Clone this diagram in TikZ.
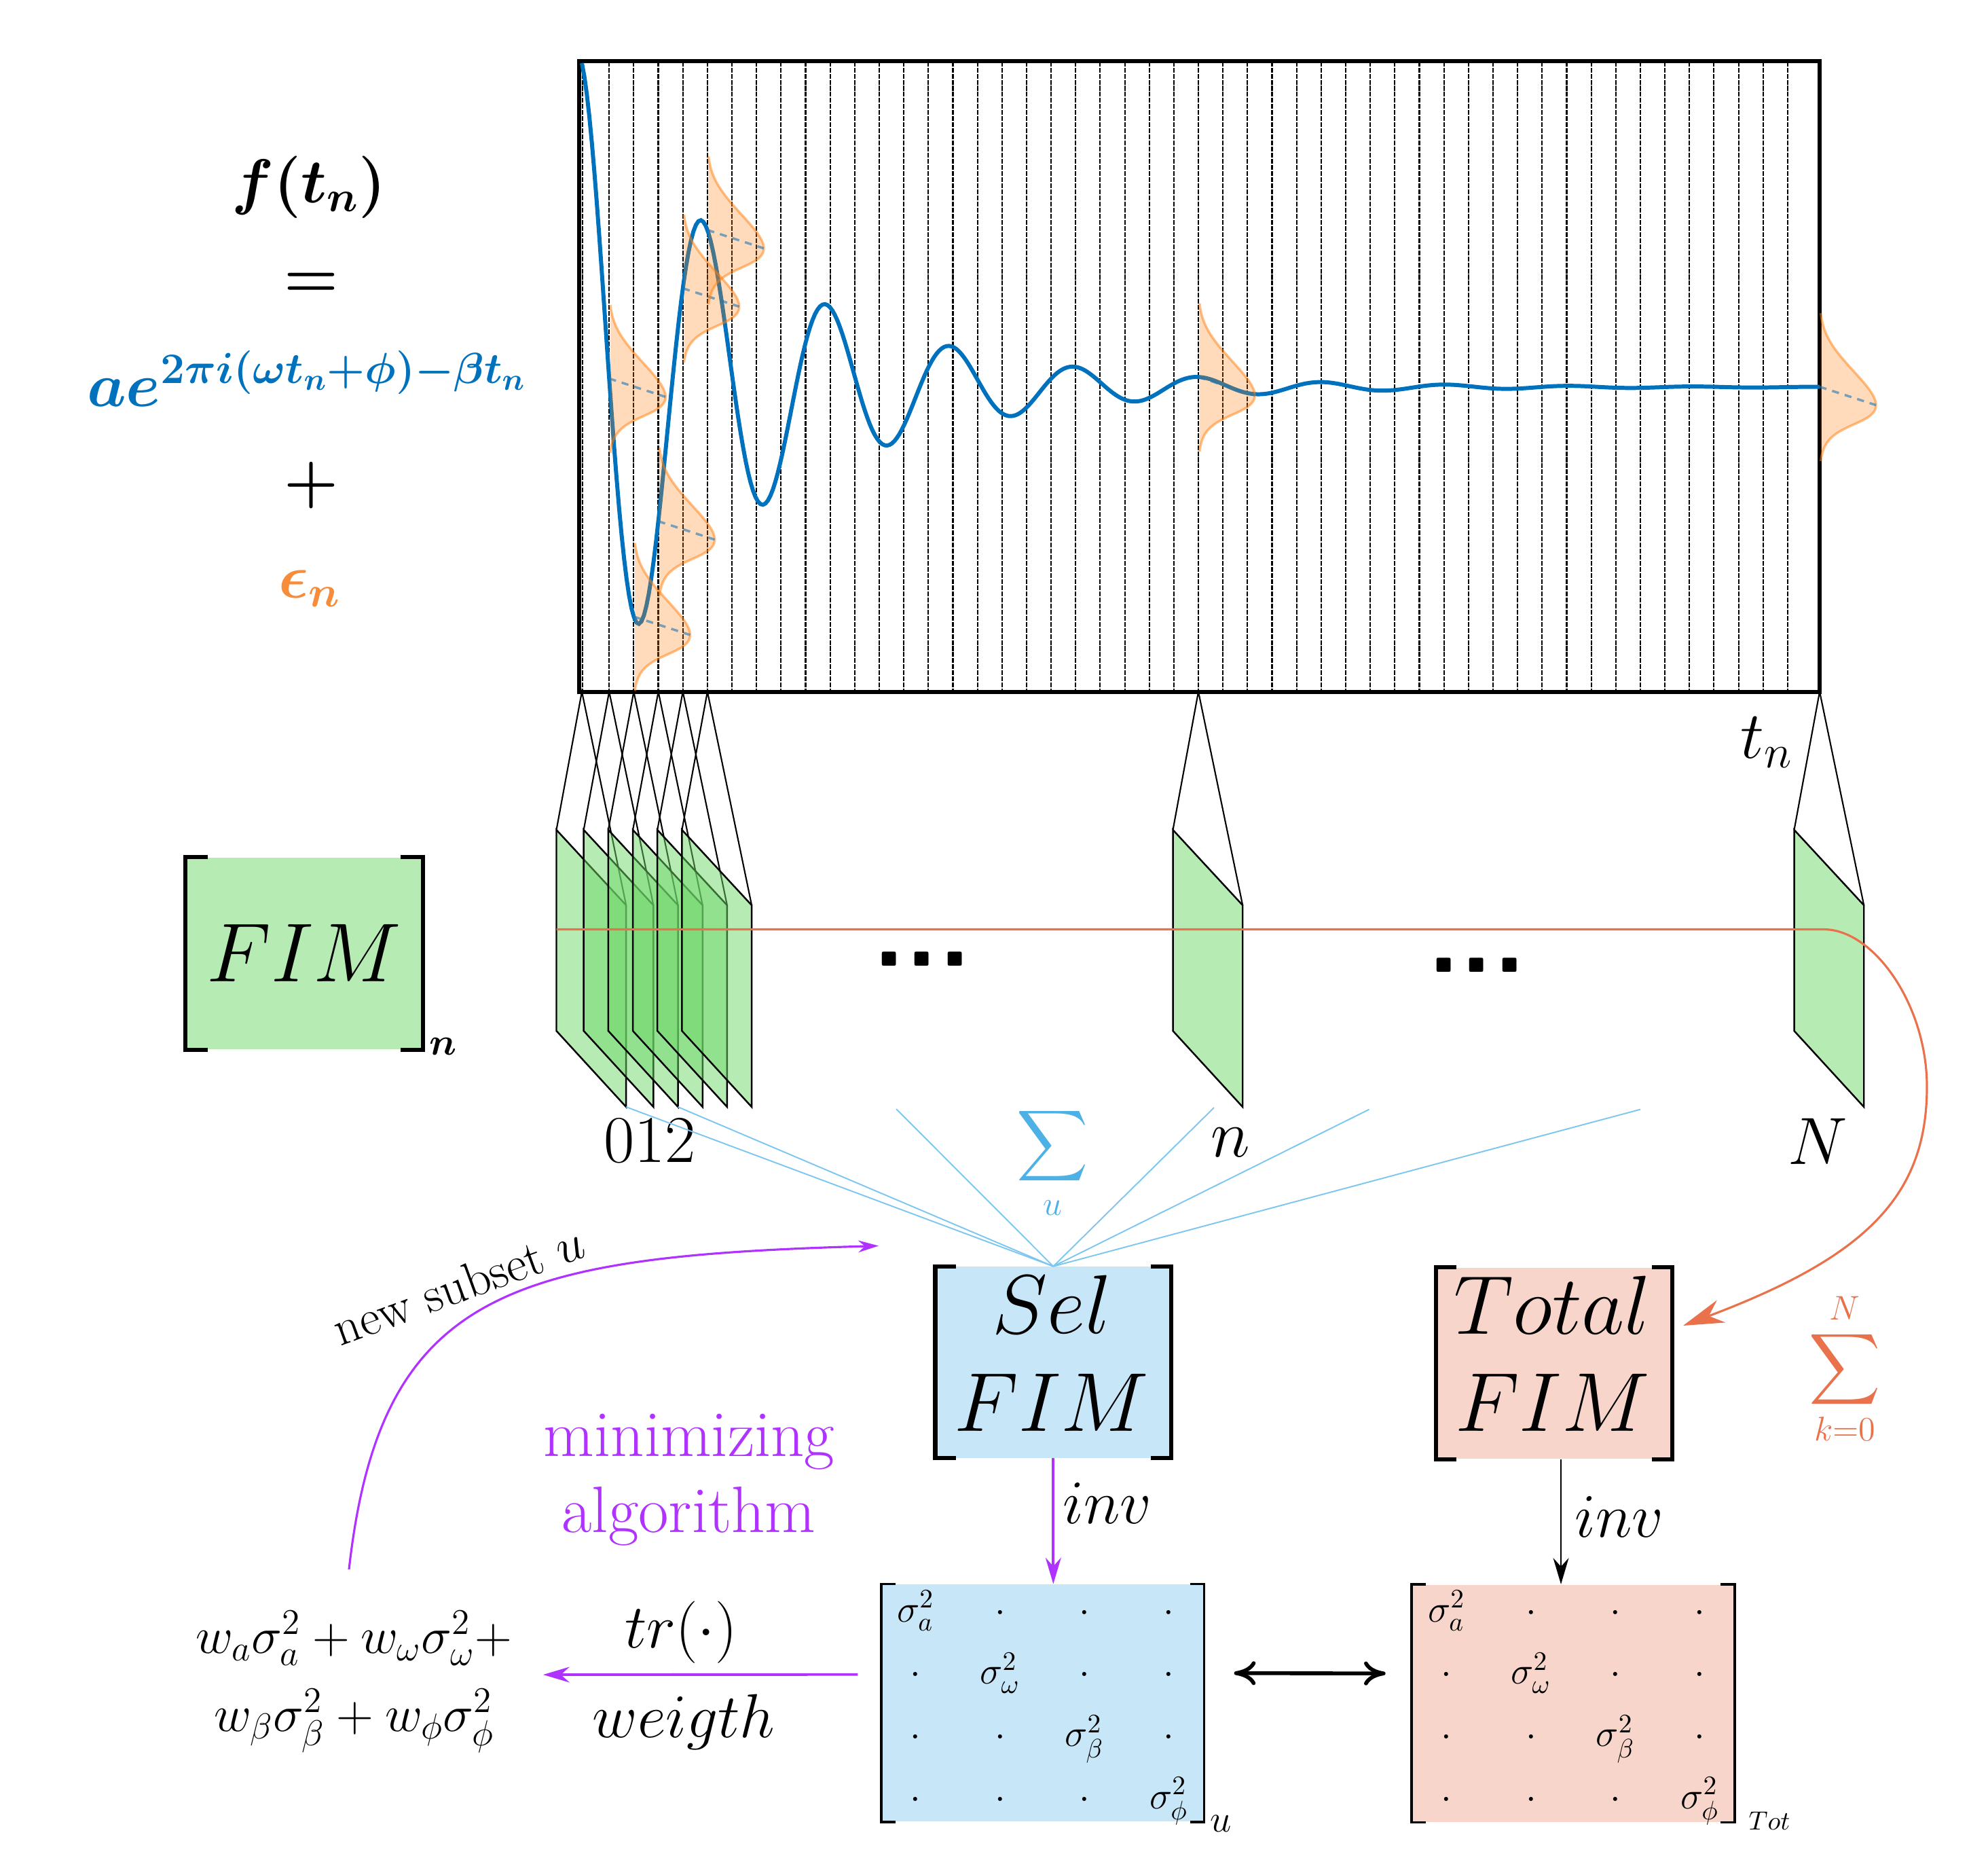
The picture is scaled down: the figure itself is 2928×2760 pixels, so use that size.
\RequirePackage{fix-cm}
\documentclass[tikz,border=0pt]{standalone}
\usepackage{exscale}
\usepackage{amsmath}
\usetikzlibrary{positioning, arrows.meta}

\definecolor{fitblue}{RGB}{0,114,189}
\definecolor{gaussorange}{RGB}{255,127,14}
\definecolor{gaussline}{RGB}{31,119,180}
\definecolor{epsorange}{RGB}{247,140,58}
\definecolor{fimgreen}{RGB}{182,235,180}
\definecolor{panelgreen}{RGB}{110,215,105}
\definecolor{selblue}{RGB}{199,230,247}
\definecolor{totpink}{RGB}{247,213,202}
\definecolor{sumorange}{RGB}{233,113,76}
\definecolor{sumblue}{RGB}{78,177,230}
\definecolor{fanblue}{RGB}{125,198,240}
\definecolor{algpurple}{RGB}{176,50,255}

% square brackets round a node
\newcommand{\fimbracket}[3][bracket]{%
  \draw[#1] ([xshift=#3]#2.north west) -- (#2.north west) -- (#2.south west) -- ([xshift=#3]#2.south west);
  \draw[#1] ([xshift=-#3]#2.north east) -- (#2.north east) -- (#2.south east) -- ([xshift=-#3]#2.south east);
}

\begin{document}
\begin{tikzpicture}[
        x=0.01cm, y=-0.01cm,
        every node/.style={inner sep=0pt},
        declare function={sig(\x)=570-483*exp(-0.00383*(\x-857))*cos(1.9715*(\x-857)+9);},
        eqfont/.style={font=\fontsize{26pt}{32pt}\selectfont\boldmath},
        fimfont/.style={font=\fontsize{35pt}{42pt}\selectfont},
        idxfont/.style={font=\fontsize{28pt}{34pt}\selectfont},
        opfont/.style={font=\fontsize{26pt}{32pt}\selectfont},
        algfont/.style={font=\fontsize{27.5pt}{33pt}\selectfont},
        wfont/.style={font=\fontsize{21.6pt}{26pt}\selectfont},
        covfont/.style={font=\fontsize{16pt}{19pt}\selectfont},
        sumfont/.style={font=\fontsize{20.4pt}{24pt}\selectfont},
        dotsfont/.style={font=\fontsize{45pt}{50pt}\selectfont\sffamily\bfseries},
        fimbox/.style={rectangle, minimum width=3.46cm, minimum height=2.81cm},
        covbox/.style={rectangle, minimum width=4.74cm, minimum height=3.49cm},
        bracket/.style={line width=1.8pt, line cap=rect, line join=miter},
        thinbracket/.style={line width=1pt, line cap=rect, line join=miter},
        sampleline/.style={line width=0.6pt, dash pattern=on 2pt off 0.55pt},
        fitcurve/.style={fitblue, line width=1.7pt},
        gaussfill/.style={fill=gaussorange, fill opacity=0.28},
        gaussedge/.style={draw=gaussorange, draw opacity=0.5, line width=1pt},
        gaussmid/.style={draw=gaussline, draw opacity=0.6, line width=1pt, dash pattern=on 3pt off 2.5pt},
        panel/.style={draw=black, line width=0.7pt, fill=panelgreen, fill opacity=0.5},
        funnel/.style={line width=0.6pt},
        fanline/.style={fanblue, line width=0.55pt},
        purplearrow/.style={algpurple, line width=1.1pt, -{Stealth[length=11pt, width=6.5pt]}},
        blackarrow/.style={line width=0.8pt, -{Stealth[length=11pt, width=6.5pt]}},
        looparrow/.style={algpurple, line width=0.9pt, -{Stealth[length=8.5pt, width=5pt]}},
        sumarrow/.style={sumorange, line width=0.9pt, -{Stealth[length=17pt, width=10pt]}},
        covarrow/.style={line width=1.6pt, {Computer Modern Rightarrow[length=9pt, width=10pt]}-{Computer Modern Rightarrow[length=9pt, width=10pt]}}
    ]

    \useasboundingbox (0,0) rectangle (2928,2760);

    % Signal model
    \node[eqfont, anchor=base] (fdef) at (455,298) {$f(t_n)$};
    \node[eqfont, anchor=base] (eqsign) at (458,437) {$=$};
    \node[eqfont, anchor=base, text=fitblue] (signal) at (452,598) {$ae^{2\pi i(\omega t_n+\phi)-\beta t_n}$};
    \node[eqfont, anchor=base] (plussign) at (458,737) {$+$};
    \node[eqfont, anchor=base, text=epsorange] (noise) at (456,880) {$\epsilon_n$};

    % Samples and signal
    \draw[sampleline] (858,90.6) -- (858,1018.5);
    \foreach \k in {1,...,49}
        \draw[sampleline] ({897.2+36.16*(\k-1)},90.6) -- ({897.2+36.16*(\k-1)},1018.5);
    \node[draw, line width=1.7pt, outer sep=0pt, minimum width=18.262cm, minimum height=9.279cm] (plotbox) at (1766.6,554.55) {};
    \draw[fitcurve] plot[domain=857:2680, samples=500, variable=\x] (\x,{sig(\x)});

    % Noise at some samples
    \foreach \gx in {897.2, 933.4, 969.6, 1005.7, 1041.9, 1765, 2680} {
        \pgfmathsetmacro{\gc}{sig(\gx)}
        \fill[gaussfill] plot[domain=-109:109, samples=60, variable=\t]
            ({\gx+83*exp(-(\t*\t)/3042)},{\gc+\t+27*exp(-(\t*\t)/3042)}) -- cycle;
        \draw[gaussedge] plot[domain=-109:109, samples=60, variable=\t]
            ({\gx+83*exp(-(\t*\t)/3042)},{\gc+\t+27*exp(-(\t*\t)/3042)});
        \draw[gaussmid] (\gx,\gc) -- ({\gx+83},{\gc+27});
    }
    \node[idxfont, anchor=base] (lbltn) at (2602,1116) {$t_n$};

    % One FIM per sample
    \foreach \nm/\ax in {0/857, 1/897.2, 2/933.4, 3/969.6, 4/1005.7, 5/1041.9, n/1765, N/2680} {
        \coordinate (a\nm) at (\ax,1018.5);
        \coordinate (tl\nm) at ({\ax-37.5},1222);
        \coordinate (tr\nm) at ({\ax+65.2},1333);
        \coordinate (br\nm) at ({\ax+65.2},1630);
        \coordinate (bl\nm) at ({\ax-37.5},1518);
        \draw[funnel] (tl\nm) -- (a\nm) -- (tr\nm);
        \path[panel] (tl\nm) -- (tr\nm) -- (br\nm) -- (bl\nm) -- cycle;
    }
    \node[dotsfont] (dotsa) at (1358,1412) {...};
    \node[dotsfont] (dotsb) at (2175,1421) {...};
    \node[idxfont, anchor=base] (lbl012) at (957,1711) {012};
    \node[idxfont, anchor=base] (lbln) at (1812,1703) {$n$};
    \node[idxfont, anchor=base] (lblN) at (2677,1714) {$N$};

    % Single FIM
    \node[fimbox, minimum width=3.49cm, minimum height=2.824cm, fill=fimgreen, fimfont] (fimn) at (448,1403.8) {$FIM$};
    \fimbracket{fimn}{0.3cm}
    \node[font=\fontsize{16pt}{19pt}\selectfont\boldmath, anchor=base] (fimsub) at (653,1553) {$n$};

    % Selected and total FIM
    \node[fimbox, fill=selblue] (selfim) at (1551.3,2006) {};
    \fimbracket{selfim}{0.27cm}
    \node[fimfont, anchor=base] (seltxt) at (1549,1963) {$Sel$};
    \node[fimfont, anchor=base] (selfimtxt) at (1549,2107) {$FIM$};

    \node[fimbox, fill=totpink] (totfim) at (2289,2007.5) {};
    \fimbracket{totfim}{0.27cm}
    \node[fimfont, anchor=base] (tottxt) at (2286.5,1964) {$Total$};
    \node[fimfont, anchor=base] (totfimtxt) at (2286.5,2107) {$FIM$};

    % Sum over the subset u
    \coordinate (fan1) at (1320,1633);
    \coordinate (fan2) at (1788,1631);
    \coordinate (fan3) at (2016.5,1633.6);
    \coordinate (fan4) at (2416,1633.6);
    \foreach \f in {br0, br2, fan1, fan2, fan3, fan4}
        \draw[fanline] (selfim.north) -- (\f);
    \node[sumfont, anchor=base, text=sumblue] (sumu) at (1550,1705) {$\displaystyle\sum_u$};

    % Sum over all samples
    \coordinate (fimline) at (819.5,1368.5);
    \coordinate (sumin) at (2479,1952);
    \draw[sumarrow] (fimline) -- (2686,1368.5) .. controls (2760,1368.5) and (2838,1480) .. (2838,1600)
        .. controls (2838,1760) and (2750,1850) .. (sumin);
    \node[sumfont, anchor=base, text=sumorange] (sumk) at (2717,2034) {$\displaystyle\sum_{k=0}^{N}$};

    % Covariance matrices
    \node[covbox, fill=selblue] (selcov) at (1535.75,2507.75) {};
    \fimbracket[thinbracket]{selcov}{0.19cm}
    \node[covbox, fill=totpink] (totcov) at (2317,2508.2) {};
    \fimbracket[thinbracket]{totcov}{0.19cm}
    \foreach \cov/\cx in {selcov/1298.5, totcov/2080.5} {
        \foreach \r/\sg in {1/a, 2/\omega, 3/\beta, 4/\phi} {
            \foreach \c in {1,...,4} {
                \pgfmathsetmacro{\ex}{\cx+50+124.3*(\c-1)}
                \pgfmathsetmacro{\ey}{2388+91.7*(\r-1)}
                \ifnum\r=\c
                    \node[covfont, anchor=base] (\cov-\r\c) at (\ex,\ey) {$\sigma^2_{\sg}$};
                \else
                    \node[covfont, anchor=base] (\cov-\r\c) at (\ex,\ey) {$\cdot$};
                \fi
            }
        }
    }
    \node[font=\fontsize{16pt}{19pt}\selectfont, anchor=base west] (covu) at (1782,2697) {$u$};
    \node[font=\fontsize{11pt}{13pt}\selectfont, anchor=base west] (covtot) at (2575,2694) {$Tot$};

    % Inversion
    \draw[purplearrow] (selfim.south) -- (selfim.south |- selcov.north);
    \node[opfont, anchor=base west] (invsel) at (1565,2243) {$inv$};
    \draw[blackarrow] ([xshift=0.1cm]totfim.south) -- ([xshift=0.1cm]totfim.south |- totcov.north);
    \node[opfont, anchor=base west] (invtot) at (2319,2263) {$inv$};
    \draw[covarrow] ([xshift=0.44cm, yshift=0.44cm]selcov.east) -- ([xshift=-0.385cm, yshift=0.44cm]totcov.west);

    % Weighted trace
    \coordinate (trtip) at (800,2466);
    \draw[purplearrow] ([xshift=-0.345cm, yshift=0.42cm]selcov.west) -- (trtip);
    \node[opfont, anchor=base] (trlabel) at (1003,2426) {$tr(\cdot)$};
    \node[opfont, anchor=base] (wlabel) at (1007,2558) {$weigth$};
    \node[wfont, anchor=base] (wsuma) at (521,2434) {$w_a\sigma_a^2+w_\omega\sigma_\omega^2+$};
    \node[wfont, anchor=base] (wsumb) at (521.4,2549) {$w_\beta\sigma_\beta^2+w_\phi\sigma_\phi^2$};

    % Minimizing loop
    \node[algfont, anchor=base, text=algpurple] (minlabel) at (1015,2144.5) {minimizing};
    \node[algfont, anchor=base, text=algpurple] (alglabel) at (1014.5,2256.5) {algorithm};
    \coordinate (loopstart) at (514,2311);
    \coordinate (loopend) at (1294,1834.5);
    \draw[looparrow] (loopstart) .. controls (560,1900) and (750,1850) .. (loopend);
    \node[font=\fontsize{21pt}{25pt}\selectfont, rotate=20, anchor=base] (newsub) at (684,1916) {new subset $u$};

\end{tikzpicture}
\end{document}
